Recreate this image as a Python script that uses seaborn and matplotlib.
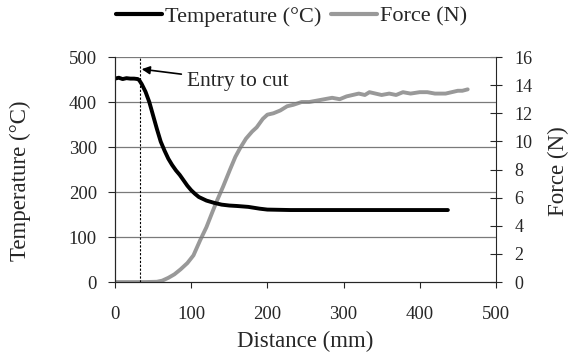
import matplotlib
matplotlib.use("Agg")
import matplotlib.pyplot as plt
import seaborn as sns
import pandas as pd
from matplotlib.lines import Line2D

# Temperature trace (distance mm, deg C)
temp_dist = [0, 5, 10, 15, 20, 25, 30, 32, 35, 40, 45, 50, 55, 60, 65, 70, 75, 80,
             85, 90, 95, 100, 105, 110, 120, 130, 140, 150, 160, 175, 190, 200,
             230, 260, 300, 350, 400, 437]
temp_vals = [452, 454, 451, 453, 452, 452, 451, 448, 440, 423, 400, 370, 340, 312,
             292, 274, 260, 248, 238, 226, 214, 204, 196, 189, 181, 176, 172, 170,
             169, 167, 163, 161, 160, 160, 160, 160, 160, 160]

# Force trace (distance mm, N)
force_dist = [0, 20, 40, 55, 62, 70, 78, 86, 95, 103, 112, 120, 128, 134, 142, 151,
              158, 164, 172, 180, 186, 194, 200, 208, 217, 226, 234, 245, 255, 265,
              275, 285, 295, 304, 312, 320, 328, 334, 342, 350, 360, 369, 378, 388,
              400, 410, 420, 434, 442, 450, 456, 463]
force_vals = [0, 0, 0, 0.02, 0.1, 0.3, 0.55, 0.9, 1.35, 1.9, 3.0, 3.9, 5.0, 5.8,
              6.8, 8.0, 8.9, 9.5, 10.2, 10.7, 11.0, 11.6, 11.9, 12.0, 12.2, 12.5,
              12.6, 12.8, 12.8, 12.9, 13.0, 13.1, 13.0, 13.2, 13.3, 13.4, 13.3, 13.5,
              13.4, 13.3, 13.4, 13.3, 13.5, 13.4, 13.5, 13.5, 13.4, 13.4, 13.5, 13.6,
              13.6, 13.7]

entry_x = 33

sns.set_style("ticks")
plt.rcParams["font.family"] = ["Liberation Serif", "DejaVu Serif"]

temp_df = pd.DataFrame({"dist": temp_dist, "temp": temp_vals})
force_df = pd.DataFrame({"dist": force_dist, "force": force_vals})

fig = plt.figure(figsize=(5.68, 3.53), dpi=100)
ax = fig.add_axes([0.2025, 0.201, 0.6705, 0.6375])
ax2 = ax.twinx()

for y in range(100, 501, 100):
    ax.axhline(y, color="#7a7a7a", lw=0.9, zorder=0)
ax.axvline(entry_x, color="black", lw=0.8, ls=(0, (2, 1.5)), zorder=1)

sns.lineplot(data=force_df, x="dist", y="force", ax=ax2, color="#999999", lw=2.8)
sns.lineplot(data=temp_df, x="dist", y="temp", ax=ax, color="black", lw=2.8)
ax.set_zorder(ax2.get_zorder() + 1)
ax.patch.set_visible(False)

ax.set_xlim(0, 500)
ax.set_ylim(0, 500)
ax2.set_ylim(0, 16)
ax.set_xticks(range(0, 501, 100))
ax.set_yticks(range(0, 501, 100))
ax2.set_yticks(range(0, 17, 2))

ax.set_xlabel("Distance (mm)", fontsize=16.5, labelpad=6)
ax.set_ylabel("Temperature (°C)", fontsize=16.5)
ax2.set_ylabel("Force (N)", fontsize=16.5)
ax.yaxis.set_label_coords(-0.22, 0.45)
ax2.yaxis.set_label_coords(1.136, 0.493)

ax.tick_params(axis="x", labelsize=13.5, direction="out", length=4, width=0.8, pad=13)
ax.tick_params(axis="y", labelsize=13.5, direction="out", length=5, width=0.8, pad=8)
ax2.tick_params(axis="y", labelsize=13, direction="inout", length=9, width=0.8, pad=9)

for a in (ax, ax2):
    a.spines["top"].set_visible(False)
    for s in a.spines.values():
        s.set_linewidth(0.8)
ax.spines["right"].set_visible(False)

ax.annotate("Entry to cut", xy=(entry_x + 2, 473), xytext=(95, 446),
            fontsize=15.5, va="center", ha="left",
            arrowprops=dict(arrowstyle="-|>", color="black", lw=1.2,
                            mutation_scale=12, shrinkA=2, shrinkB=0))

handles = [Line2D([], [], color="black", lw=3),
           Line2D([], [], color="#999999", lw=3)]
fig.legend(handles, ["Temperature (°C)", "Force (N)"], loc="center",
           bbox_to_anchor=(0.513, 0.953), ncol=2, frameon=False, fontsize=16,
           handlelength=2.07, handletextpad=0.14, columnspacing=0.45,
           borderpad=0, borderaxespad=0)

fig.savefig("out.png", dpi=100)
